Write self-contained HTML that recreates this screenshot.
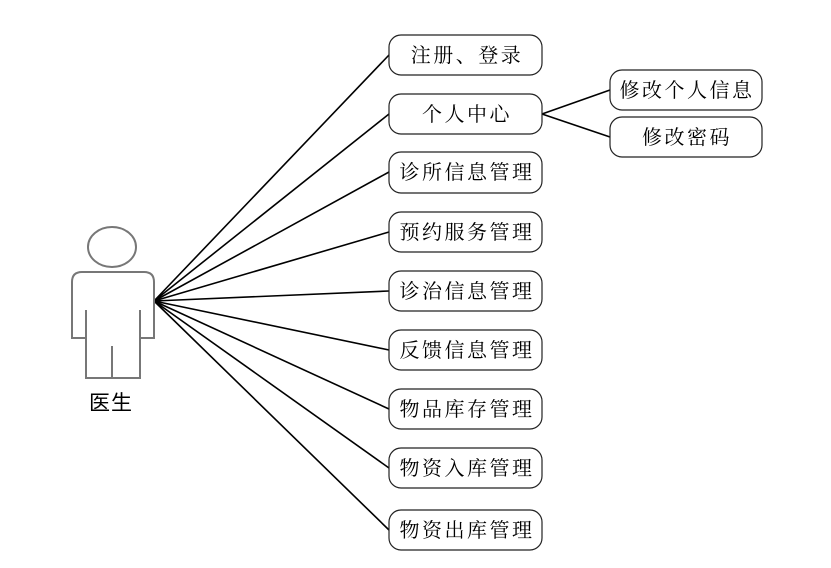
<!DOCTYPE html>
<html><head><meta charset="utf-8"><style>
html,body{margin:0;padding:0;background:#fff;}
svg text{font-family:"Noto Serif CJK SC","Liberation Serif",serif;font-size:20px;letter-spacing:2.5px;fill:#000;}
</style></head><body>
<svg width="831" height="563" viewBox="0 0 831 563" xmlns="http://www.w3.org/2000/svg">
<g stroke="#000" stroke-width="1.6" fill="none">
<line x1="154" y1="301" x2="389" y2="55"/>
<line x1="154" y1="301" x2="389" y2="114"/>
<line x1="154" y1="301" x2="389" y2="172"/>
<line x1="154" y1="301" x2="389" y2="232"/>
<line x1="154" y1="301" x2="389" y2="291"/>
<line x1="154" y1="301" x2="389" y2="350"/>
<line x1="154" y1="301" x2="389" y2="409"/>
<line x1="154" y1="301" x2="389" y2="468"/>
<line x1="154" y1="301" x2="389" y2="530"/>
<line x1="542" y1="114" x2="610" y2="90"/>
<line x1="542" y1="114" x2="610" y2="137"/>
</g>
<g stroke="#222" stroke-width="1.2" fill="#fff">
<rect x="389" y="35" width="153" height="40" rx="12"/>
<rect x="389" y="94" width="153" height="40" rx="12"/>
<rect x="389" y="152" width="153" height="41" rx="12"/>
<rect x="389" y="212" width="153" height="40" rx="12"/>
<rect x="389" y="271" width="153" height="40" rx="12"/>
<rect x="389" y="330" width="153" height="40" rx="12"/>
<rect x="389" y="389" width="153" height="40" rx="12"/>
<rect x="389" y="448" width="153" height="40" rx="12"/>
<rect x="389" y="510" width="153" height="40" rx="12"/>
<rect x="610" y="70" width="152" height="40" rx="12"/>
<rect x="610" y="117" width="152" height="40" rx="12"/>
</g>
<g text-anchor="middle">
<text x="467" y="62">注册、登录</text>
<text x="467" y="121">个人中心</text>
<text x="467" y="179">诊所信息管理</text>
<text x="467" y="239">预约服务管理</text>
<text x="467" y="298">诊治信息管理</text>
<text x="467" y="357">反馈信息管理</text>
<text x="467" y="416">物品库存管理</text>
<text x="467" y="475">物资入库管理</text>
<text x="467" y="537">物资出库管理</text>
<text x="687" y="97">修改个人信息</text>
<text x="687" y="144">修改密码</text>
</g>
<g stroke="#777" stroke-width="2" fill="#fff">
<ellipse cx="112" cy="247" rx="24" ry="20"/>
<path d="M86,378 L86,338 L72,338 L72,282 Q72,272 82,272 L144,272 Q154,272 154,282 L154,338 L140,338 L140,378 Z"/>
<line x1="86" y1="310" x2="86" y2="338"/>
<line x1="140" y1="310" x2="140" y2="338"/>
<line x1="112" y1="346" x2="112" y2="378"/>
</g>
<text x="111" y="410" text-anchor="middle" style="font-family:'Noto Sans CJK SC','Liberation Sans',sans-serif;font-size:21px;letter-spacing:1px">医生</text>
</svg>
</body></html>
